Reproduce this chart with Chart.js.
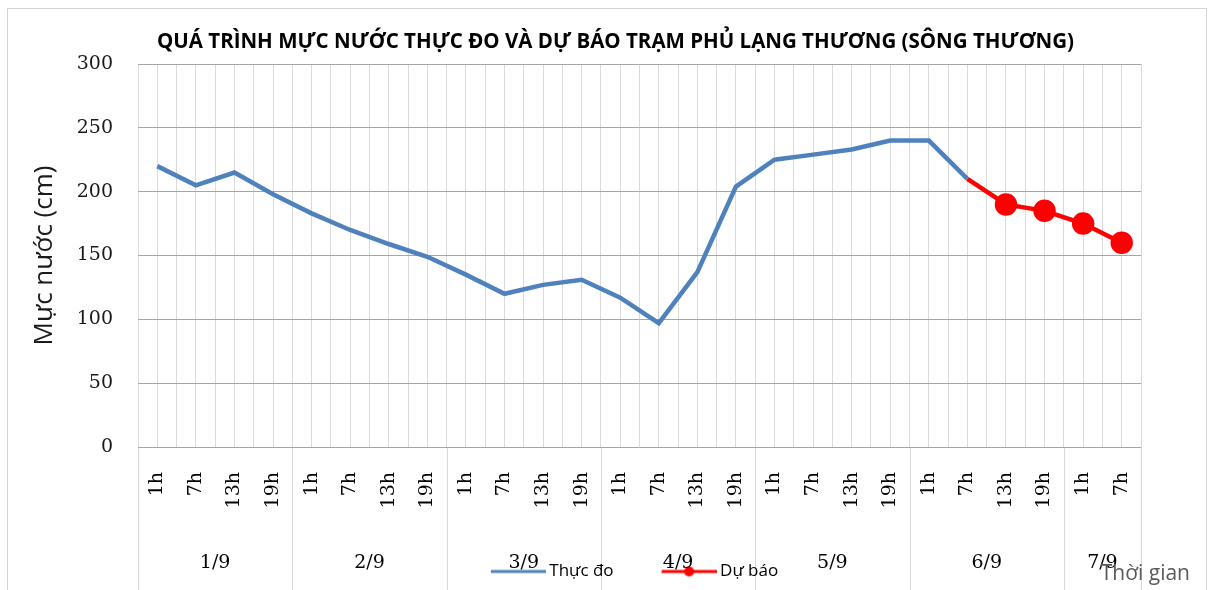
<!DOCTYPE html>
<html><head><meta charset="utf-8">
<script src="https://cdn.jsdelivr.net/npm/chart.js@4.4.1/dist/chart.umd.min.js"></script>
<style>html,body{margin:0;padding:0;background:#fff;overflow:hidden}</style>
</head><body>
<canvas id="c" width="1209" height="590"></canvas>
<script>
// ---- data ----
const days = ['1/9','2/9','3/9','4/9','5/9','6/9','7/9'];
const hoursOfDay = ['1h','7h','13h','19h'];
const hoursPerDay = [4,4,4,4,4,4,2];
const observed = [220,205,215,198,183,170,159,149,135,120,127,131,117,97,137,204,225,229,233,240,240,210,null,null,null,null];
const forecast = [null,null,null,null,null,null,null,null,null,null,null,null,null,null,null,null,null,null,null,null,null,210,190,185,175,160];
const yTickValues = [0,50,100,150,200,250,300];
const chartTitle = 'QUÁ TRÌNH MỰC NƯỚC THỰC ĐO VÀ DỰ BÁO TRẠM PHỦ LẠNG THƯƠNG (SÔNG THƯƠNG)';
const yTitle = 'Mực nước (cm)';
const xTitle = 'Thời gian';
const seriesNames = ['Thực đo','Dự báo'];

// ---- derived ----
const categories = hoursPerDay.flatMap(n => hoursOfDay.slice(0, n));
const dayStarts = [];
let acc = 0;
hoursPerDay.forEach(n => { dayStarts.push(acc); acc += n; });
const dayBounds = dayStarts.concat([acc]);
const dayCenters = hoursPerDay.map((n, i) => dayStarts[i] + n / 2);
const gridVals = [];
for (let k = 0; k <= categories.length * 2; k++) gridVals.push(k / 2);
const firstForecast = forecast.findIndex(v => v !== null);

const BLUE = '#4F81BD', RED = '#FF0000';
const SERIF = "'DejaVu Serif', serif";
const SANS = "'Open Sans', sans-serif";

function legendIcon(color, marker) {
  const c = document.createElement('canvas');
  c.width = 98; c.height = 14;
  const g = c.getContext('2d');
  g.strokeStyle = color; g.lineWidth = 3;
  g.beginPath(); g.moveTo(43, 7); g.lineTo(98, 7); g.stroke();
  if (marker) { g.fillStyle = color; g.beginPath(); g.arc(70.5, 7, 5, 0, Math.PI * 2); g.fill(); }
  return c;
}
const icons = [legendIcon(BLUE, false), legendIcon(RED, true)];

const decor = {
  id: 'decor',
  afterLayout(chart) {
    // let the day-label axis draw its labels below its fitted box
    chart.scales.x2.bottom = chart.height;
  },
  beforeDraw(chart) {
    const ctx = chart.ctx;
    ctx.save();
    ctx.strokeStyle = '#d4d4d4'; ctx.lineWidth = 1;
    ctx.strokeRect(7.5, 8.5, chart.width - 10, chart.height + 10);
    const x2 = chart.scales.x2;
    ctx.strokeStyle = '#d9d9d9';
    dayBounds.forEach(b => {
      const px = Math.round(x2.getPixelForValue(b)) + 0.5;
      ctx.beginPath(); ctx.moveTo(px, chart.chartArea.bottom); ctx.lineTo(px, chart.height); ctx.stroke();
    });
    ctx.restore();
  },
  afterDraw(chart) {
    const ctx = chart.ctx;
    ctx.save();
    ctx.font = '21px ' + SANS;
    ctx.fillStyle = '#595959';
    ctx.textAlign = 'right'; ctx.textBaseline = 'middle';
    ctx.fillText(xTitle, chart.width - 19, chart.height - 16);
    ctx.restore();
  }
};

new Chart(document.getElementById('c'), {
  type: 'line',
  data: {
    labels: categories,
    datasets: [
      { label: seriesNames[0], data: observed, borderColor: BLUE, backgroundColor: BLUE, borderWidth: 4.5, pointRadius: 0, tension: 0 },
      { label: seriesNames[1], data: forecast, borderColor: RED, backgroundColor: RED, borderWidth: 4.5,
        pointRadius: c => c.dataIndex === firstForecast ? 0 : 9, pointBackgroundColor: RED, pointBorderColor: RED, tension: 0 }
    ]
  },
  options: {
    responsive: false,
    animation: false,
    events: [],
    layout: { padding: { left: 22, right: 0, top: 0, bottom: 0 } },
    plugins: {
      title: { display: true, text: chartTitle, color: '#000', font: { family: SANS, size: 20.5, weight: 'bold' }, padding: { top: 29.7, bottom: 9.7 } },
      legend: {
        position: 'bottom',
        labels: {
          usePointStyle: true, pointStyleWidth: 88, padding: 10, color: '#000',
          font: { family: SANS, size: 17 },
          generateLabels(chart) {
            const items = Chart.defaults.plugins.legend.labels.generateLabels(chart);
            items.forEach((it, i) => { it.pointStyle = icons[i]; });
            return items;
          }
        }
      },
      tooltip: { enabled: false }
    },
    scales: {
      x: {
        type: 'category', offset: true, weight: 0,
        grid: { display: false, drawTicks: false }, border: { display: false },
        ticks: { minRotation: 90, maxRotation: 90, autoSkip: false, padding: 25, color: '#000', font: { family: SERIF, size: 19 } },
        afterFit: s => { s.height = 62; }
      },
      x2: {
        type: 'linear', position: 'bottom', weight: 1, min: 0, max: categories.length,
        grid: { display: true, drawOnChartArea: true, drawTicks: false, color: '#dadada' }, border: { display: false },
        afterBuildTicks: s => { s.ticks = gridVals.map(v => ({ value: v })); },
        ticks: { minRotation: 0, maxRotation: 0, autoSkip: false, padding: 43, color: '#000', font: { family: SERIF, size: 19 },
          callback: v => { const i = dayCenters.indexOf(v); return i >= 0 ? days[i] : ''; } },
        afterFit: s => { s.height = 44; }
      },
      y: {
        min: 0, max: 300,
        afterBuildTicks: s => { s.ticks = yTickValues.map(v => ({ value: v })); },
        grid: { color: '#a6a6a6', drawTicks: false }, border: { display: false },
        ticks: { padding: 25, color: '#1a1a1a', font: { family: SERIF, size: 19 } },
        title: { display: true, text: yTitle, color: '#1a1a1a', font: { family: SANS, size: 26 }, padding: { top: 7.4 } },
        afterFit: s => { s.width = 116; }
      },
      y2: {
        type: 'linear', position: 'right', display: true,
        grid: { display: false }, border: { display: false }, ticks: { display: false },
        afterFit: s => { s.width = 68; }
      }
    }
  },
  plugins: [decor]
});
</script>
</body></html>
